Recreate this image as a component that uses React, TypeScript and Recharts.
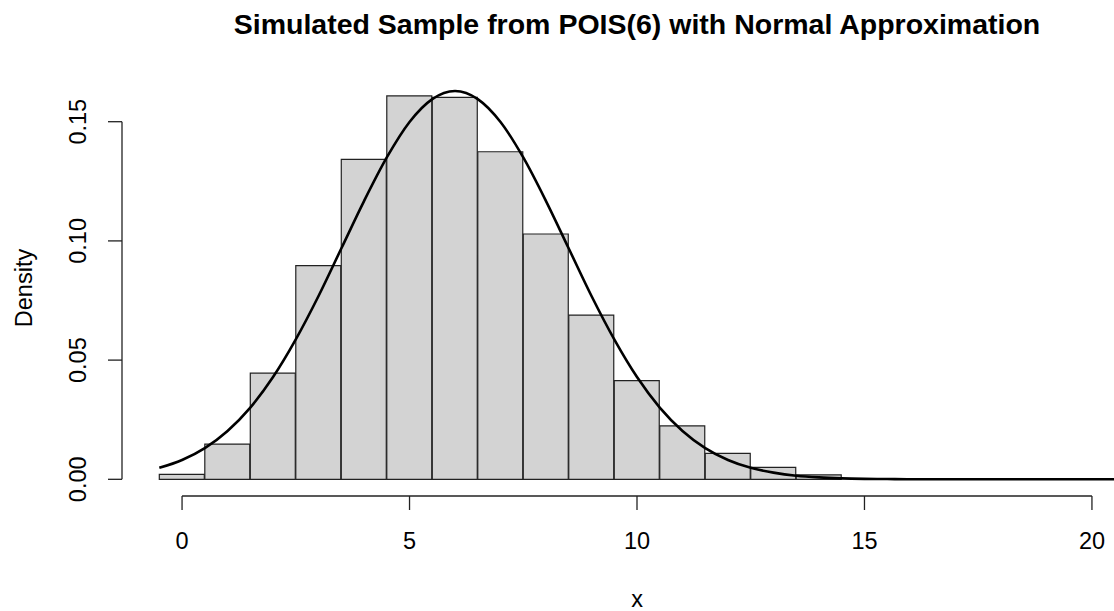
import { ComposedChart, Bar, Line, XAxis, YAxis, ReferenceLine } from 'recharts';

// histogram bins (centred on integers, width 1) and their densities
const BIN_X = [0, 1, 2, 3, 4, 5, 6, 7, 8, 9, 10, 11, 12, 13, 14];
const BIN_DENSITY = [0.0021, 0.0148, 0.0445, 0.0896, 0.1342, 0.1608, 0.1602, 0.1374, 0.1029, 0.0689, 0.0414, 0.0224, 0.0109, 0.005, 0.0019];

// normal approximation curve, read every half unit
const CURVE_X = [
  -0.5, 0, 0.5, 1, 1.5, 2, 2.5, 3, 3.5, 4, 4.5, 5, 5.5, 6, 6.5, 7, 7.5, 8, 8.5, 9, 9.5, 10,
  10.5, 11, 11.5, 12, 12.5, 13, 13.5, 14, 14.5, 15, 15.5, 16, 16.5, 17, 17.5, 18, 18.5, 19, 19.5, 20, 20.5,
];
const CURVE_Y = [
  0.0048, 0.0081, 0.0131, 0.0203, 0.0301, 0.0429, 0.0587, 0.0769, 0.0968, 0.1167, 0.135, 0.1499, 0.1595, 0.1629,
  0.1595, 0.1499, 0.135, 0.1167, 0.0968, 0.0769, 0.0587, 0.0429, 0.0301, 0.0203, 0.0131, 0.0081, 0.0048, 0.0028,
  0.0015, 0.0008, 0.0004, 0.0002, 0.0001, 0, 0, 0, 0, 0, 0, 0, 0, 0, 0,
];

const X_TICKS = [0, 5, 10, 15, 20];
const Y_TICKS = [0, 0.05, 0.1, 0.15];

const X_DOMAIN: [number, number] = [-1.32, 21.32];
const Y_DOMAIN: [number, number] = [-0.007, 0.16724];

const bins = BIN_X.map((x, i) => ({ x, density: BIN_DENSITY[i] }));
const curve = CURVE_X.map((x, i) => ({ x, y: CURVE_Y[i] }));

const FONT = '"Liberation Sans", Arial, sans-serif';
const AXIS_COLOR = '#222';

function XTick({ x, y, payload }: any) {
  return (
    <text x={x} y={y + 16.8} textAnchor="middle" fontSize={23.5} fontFamily={FONT} fill="#000">
      {payload.value}
    </text>
  );
}

function YTick({ x, y, payload }: any) {
  return (
    <text transform={`translate(${x},${y}) rotate(-90)`} textAnchor="middle" fontSize={23.5} fontFamily={FONT} fill="#000">
      {Number(payload.value).toFixed(2)}
    </text>
  );
}

export default function App() {
  return (
    <div style={{ position: 'fixed', left: 0, top: 0, width: 1114, height: 611, overflow: 'hidden', background: '#fff' }}>
      <ComposedChart
        width={1180}
        height={611}
        data={bins}
        barCategoryGap={0}
        barGap={0}
        margin={{ top: 80.6, right: 28, bottom: 55, left: 0 }}
      >
        <XAxis
          dataKey="x"
          type="number"
          domain={X_DOMAIN}
          ticks={X_TICKS}
          allowDataOverflow
          axisLine={false}
          tickLine={{ stroke: AXIS_COLOR, strokeWidth: 1.3 }}
          tickSize={14}
          tickMargin={22}
          tick={<XTick />}
          height={60}
        />
        <XAxis xAxisId="bins" dataKey="x" type="number" domain={X_DOMAIN} allowDataOverflow hide />
        <YAxis
          type="number"
          domain={Y_DOMAIN}
          ticks={Y_TICKS}
          allowDataOverflow
          axisLine={false}
          tickLine={{ stroke: AXIS_COLOR, strokeWidth: 1.3 }}
          tickSize={14}
          tickMargin={22}
          tick={<YTick />}
          width={122}
        />
        <ReferenceLine
          segment={[{ x: X_TICKS[0], y: Y_DOMAIN[0] }, { x: X_TICKS[X_TICKS.length - 1], y: Y_DOMAIN[0] }]}
          stroke={AXIS_COLOR}
          strokeWidth={1.3}
          ifOverflow="visible"
        />
        <ReferenceLine
          segment={[{ x: X_DOMAIN[0], y: Y_TICKS[0] }, { x: X_DOMAIN[0], y: Y_TICKS[Y_TICKS.length - 1] }]}
          stroke={AXIS_COLOR}
          strokeWidth={1.3}
          ifOverflow="visible"
        />
        <Bar
          xAxisId="bins"
          dataKey="density"
          fill="#d3d3d3"
          stroke={AXIS_COLOR}
          strokeWidth={1.2}
          isAnimationActive={false}
        />
        <Line
          data={curve}
          dataKey="y"
          type="monotone"
          stroke="#000"
          strokeWidth={2.6}
          dot={false}
          activeDot={false}
          isAnimationActive={false}
        />
        <text x={637} y={33.5} textAnchor="middle" fontSize={28.5} fontWeight="bold" fontFamily={FONT} fill="#000">
          Simulated Sample from POIS(6) with Normal Approximation
        </text>
        <text x={637} y={606.5} textAnchor="middle" fontSize={23.5} fontFamily={FONT} fill="#000">
          x
        </text>
        <text transform="translate(31.5,288) rotate(-90)" textAnchor="middle" fontSize={23.5} fontFamily={FONT} fill="#000">
          Density
        </text>
      </ComposedChart>
    </div>
  );
}
